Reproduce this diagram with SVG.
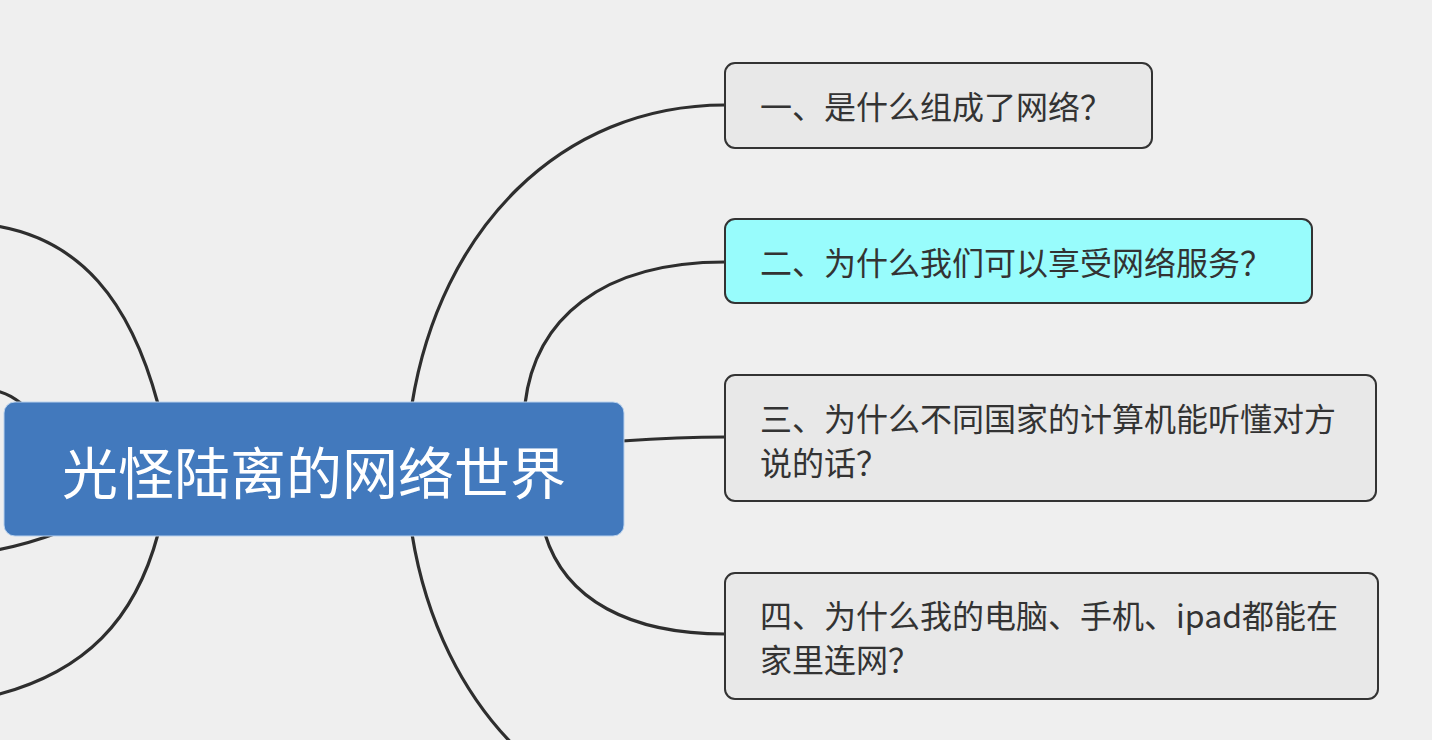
<svg xmlns="http://www.w3.org/2000/svg" width="1432" height="740" viewBox="0 0 1432 740">
<style>
.bg{fill:#efefef}
.conn{fill:none;stroke:#2e2e2e;stroke-width:3.2;stroke-linecap:round}
.node{fill:#e8e8e8;stroke:#333;stroke-width:2}
.hl{fill:#98fcfc}
.t{font-family:"Noto Sans CJK SC","Noto Sans",sans-serif;font-size:32px;fill:#333;dominant-baseline:central}
.ct{font-family:"Noto Sans CJK SC","Noto Sans",sans-serif;font-size:56px;fill:#fff;dominant-baseline:central;text-anchor:middle}
</style>
<rect class="bg" x="0" y="0" width="1432" height="740"/>
<g id="connectors">
<path class="conn" d="M158,404 C130,300 80,240 -4,226"/>
<path class="conn" d="M158,534 C135,620 85,672 -4,695"/>
<path class="conn" d="M-4,391 Q8,393 22,404"/>
<path class="conn" d="M-4,550 Q25,545 60,532"/>
<path class="conn" d="M412,404 C440,230 560,105 725,105"/>
<path class="conn" d="M525,404 C535,320 600,262 725,262"/>
<path class="conn" d="M622,441 Q680,437 725,437"/>
<path class="conn" d="M545,534 C565,600 630,634 725,634"/>
<path class="conn" d="M412,534 C440,708 560,833 725,833"/>
</g>
<g id="central">
<rect x="4" y="402" width="620" height="134" rx="11" fill="#4279bd" stroke="#b9d2ee" stroke-width="1"/>
<text class="ct" x="314" y="469">光怪陆离的网络世界</text>
</g>
<g id="node1">
<rect class="node" x="725" y="63" width="427" height="85" rx="10"/>
<text class="t" x="760" y="105">一、是什么组成了网络？</text>
</g>
<g id="node2">
<rect class="node hl" x="725" y="219" width="587" height="84" rx="10"/>
<text class="t" x="760" y="261">二、为什么我们可以享受网络服务？</text>
</g>
<g id="node3">
<rect class="node" x="725" y="375" width="651" height="126" rx="10"/>
<text class="t" x="760" y="417">三、为什么不同国家的计算机能听懂对方</text>
<text class="t" x="760" y="461">说的话？</text>
</g>
<g id="node4">
<rect class="node" x="725" y="573" width="653" height="126" rx="10"/>
<text class="t" x="760" y="614">四、为什么我的电脑、手机、ipad都能在</text>
<text class="t" x="760" y="658">家里连网？</text>
</g>
</svg>
